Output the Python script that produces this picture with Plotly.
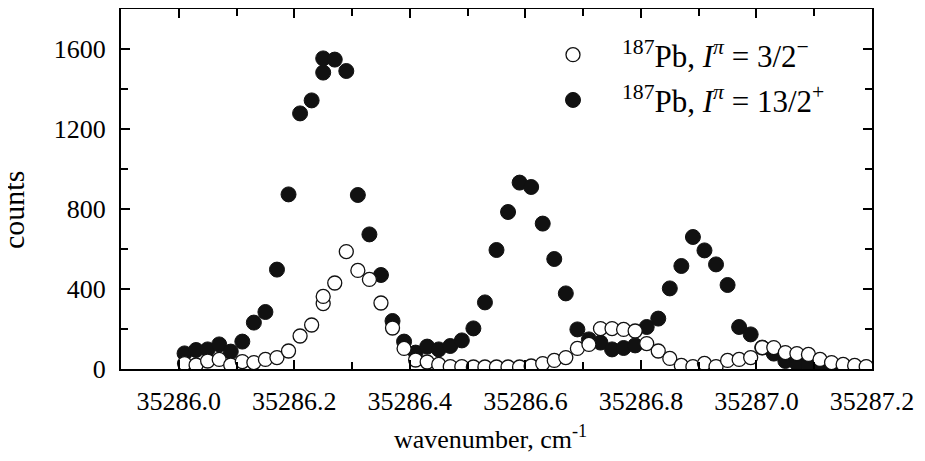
import plotly.graph_objects as go

# wavenumber grid (cm^-1)
wavenumber = [35286.01, 35286.03, 35286.05, 35286.07, 35286.09, 35286.11, 35286.13, 35286.15,
              35286.17, 35286.19, 35286.21, 35286.23, 35286.25, 35286.25, 35286.27, 35286.29,
              35286.31, 35286.33, 35286.35, 35286.37, 35286.39, 35286.41, 35286.43, 35286.45,
              35286.47, 35286.49, 35286.51, 35286.53, 35286.55, 35286.57, 35286.59, 35286.61,
              35286.63, 35286.65, 35286.67, 35286.69, 35286.71, 35286.73, 35286.75, 35286.77,
              35286.79, 35286.81, 35286.83, 35286.85, 35286.87, 35286.89, 35286.91, 35286.93,
              35286.95, 35286.97, 35286.99, 35287.01, 35287.03, 35287.05, 35287.07, 35287.09,
              35287.11, 35287.13, 35287.15, 35287.17, 35287.19]

# 187Pb, I^pi = 3/2^- (open circles)
counts_3_2 = [27, 20, 40, 48, 20, 37, 32, 48,
              57, 90, 165, 220, 327, 363, 430, 587,
              493, 448, 330, 205, 103, 45, 35, 23,
              12, 12, 10, 10, 10, 10, 10, 15,
              27, 43, 57, 103, 123, 202, 202, 198,
              190, 127, 90, 53, 18, 12, 28, 12,
              43, 48, 57, 107, 107, 82, 77, 73,
              48, 32, 23, 18, 12]

# 187Pb, I^pi = 13/2^+ (filled circles)
counts_13_2 = [78, 95, 98, 123, 87, 137, 232, 285,
               497, 873, 1278, 1343, 1482, 1553, 1547, 1490,
               870, 673, 470, 240, 137, 82, 112, 98,
               115, 143, 203, 333, 595, 785, 932, 910,
               727, 550, 378, 198, 148, 132, 98, 105,
               118, 210, 252, 403, 515, 660, 593, 523,
               420, 210, 173, 107, 77, 40, 28, 23,
               18, 13, 13, 10, 8]

x_tickvals = [35286.0, 35286.2, 35286.4, 35286.6, 35286.8, 35287.0, 35287.2]
x_ticktext = ["35286.0", "35286.2", "35286.4", "35286.6", "35286.8", "35287.0", "35287.2"]
y_tickvals = [0, 400, 800, 1200, 1600]

FONT = "Liberation Serif"

fig = go.Figure()
fig.add_trace(go.Scatter(
    x=wavenumber, y=counts_13_2, mode="markers",
    name="<sup>187</sup>Pb, <i>I</i><sup><i>π</i></sup> = 13/2<sup>+</sup>",
    marker=dict(symbol="circle", size=15, color="#111111",
                line=dict(color="#111111", width=1)),
    legendrank=2, legendgroup="b",
))
fig.add_trace(go.Scatter(
    x=wavenumber, y=counts_3_2, mode="markers",
    name="<sup>187</sup>Pb, <i>I</i><sup><i>π</i></sup> = 3/2<sup>−</sup>",
    marker=dict(symbol="circle", size=14, color="white",
                line=dict(color="#111111", width=1.3)),
    legendrank=1, legendgroup="a",
))

axis_common = dict(
    showline=True, linecolor="black", linewidth=2, mirror="allticks",
    ticks="inside", ticklen=9, tickwidth=1.5, tickcolor="black",
    showgrid=False, zeroline=False, automargin=False,
    tickfont=dict(family=FONT, size=26, color="black"),
)

fig.update_xaxes(
    range=[35285.9, 35287.2], tickmode="array", tickvals=x_tickvals, ticktext=x_ticktext,
    minor=dict(dtick=0.1, tick0=35286.0, ticks="inside", ticklen=7, tickwidth=1.5,
               tickcolor="black", showgrid=False),
    ticklabelstandoff=8,
    **axis_common,
)
fig.update_yaxes(
    range=[0, 1800], tickmode="array", tickvals=y_tickvals,
    minor=dict(dtick=200, tick0=0, ticks="inside", ticklen=7, tickwidth=1.5,
               tickcolor="black", showgrid=False),
    ticklabelstandoff=8,
    **axis_common,
)

# page has an 8px body margin; figure is sized/margined to compensate
W, H = 917, 454
ML, MR, MT, MB = 113, 53, 1, 93
plot_w = W - ML - MR
plot_h = H - MT - MB
OFF = 8  # page offset


def px_x(page_x):
    return (page_x - OFF - ML) / plot_w


def px_y(page_y):
    return (H - MB - (page_y - OFF)) / plot_h


fig.update_layout(
    width=W, height=H,
    margin=dict(l=ML, r=MR, t=MT, b=MB),
    plot_bgcolor="white", paper_bgcolor="white",
    font=dict(family=FONT, color="black"),
    showlegend=True,
    legend=dict(
        x=px_x(524), y=px_y(28), xanchor="left", yanchor="top",
        bgcolor="rgba(0,0,0,0)", borderwidth=0,
        font=dict(family=FONT, size=31, color="black"),
        tracegroupgap=2, itemsizing="trace", itemwidth=88,
    ),
    annotations=[
        dict(text="counts", x=px_x(13), y=px_y(210),
             xref="paper", yref="paper", showarrow=False, textangle=-90,
             xanchor="center", yanchor="middle",
             font=dict(family=FONT, size=30, color="black")),
        dict(text="wavenumber, cm<sup>-1</sup>", x=px_x(490), y=px_y(437),
             xref="paper", yref="paper", showarrow=False,
             xanchor="center", yanchor="middle",
             font=dict(family=FONT, size=26, color="black")),
    ],
)

fig.write_html("out.html")
